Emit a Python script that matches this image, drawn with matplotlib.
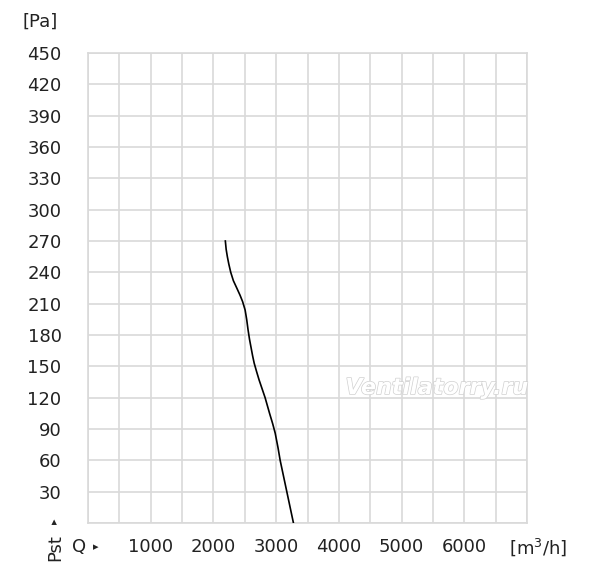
import matplotlib
matplotlib.use("Agg")
import matplotlib.pyplot as plt
import matplotlib.patheffects as pe

# kennlinie (Q in m3/h, Pst in Pa)
q_curve = [2190, 2203, 2222, 2245, 2276, 2318, 2372, 2425, 2465, 2505, 2530, 2552,
           2575, 2600, 2625, 2650, 2688, 2728, 2824, 2895, 2945, 2985, 3030, 3064,
           3117, 3170, 3223, 3276]
p_curve = [270, 262, 255, 248, 240, 232, 225, 218, 212, 204, 195, 185,
           176, 168, 160, 153, 145, 137, 120, 105, 95, 86, 72, 60,
           45, 30, 15, 0]

x_ticks = [1000, 2000, 3000, 4000, 5000, 6000]
y_ticks = [30, 60, 90, 120, 150, 180, 210, 240, 270, 300, 330, 360, 390, 420, 450]

grau = "#d9d9d9"
text_farbe = "#222222"

fig = plt.figure(figsize=(6, 5.79), dpi=100)
ax = fig.add_axes([88/600, 56/579, 439/600, 470/579])

ax.plot(q_curve, p_curve, color="black", lw=1.2, zorder=3, solid_joinstyle="round")

ax.set_xlim(0, 7000)
ax.set_ylim(0, 450)
ax.set_xticks(range(0, 7001, 500))
ax.set_yticks(range(0, 451, 30))
ax.grid(True, color=grau, lw=1.2)
ax.set_axisbelow(True)
for s in ax.spines.values():
    s.set_color(grau)
    s.set_linewidth(1.2)

# nur bestimmte beschriftungen
ax.set_xticklabels([str(v) if v in x_ticks else "" for v in range(0, 7001, 500)])
ax.set_yticklabels([str(v) if v in y_ticks else "" for v in range(0, 451, 30)])
ax.tick_params(axis="both", length=0, labelsize=13, colors=text_farbe)
ax.tick_params(axis="y", pad=19)
ax.tick_params(axis="x", pad=11)

fig.text(58/600, 1 - 22/579, "[Pa]", ha="right", va="center", fontsize=13, color=text_farbe)
fig.text(567/600, 1 - 547/579, "[m$^3$/h]", ha="right", va="center", fontsize=13, color=text_farbe)
fig.text(72/600, 1 - 547/579, "Q", ha="left", va="center", fontsize=13, color=text_farbe)
fig.text(96/600, 1 - 547/579, "▸", ha="center", va="center", fontsize=8, color=text_farbe)
fig.text(55/600, 1 - 548/579, "Pst", ha="center", va="center", fontsize=13, rotation=90, color=text_farbe)
fig.text(55/600, 1 - 521/579, "▸", ha="center", va="center", fontsize=8, rotation=90, color=text_farbe)

# wasserzeichen
wz = ax.text(0.795, 0.287, "Ventilatorry.ru", transform=ax.transAxes, ha="center", va="center",
             fontsize=16, style="italic", fontweight="bold", color="white", zorder=4)
wz.set_path_effects([pe.withStroke(linewidth=1.0, foreground="#d0d0d0")])

fig.savefig("out.png", dpi=100, facecolor="white")
